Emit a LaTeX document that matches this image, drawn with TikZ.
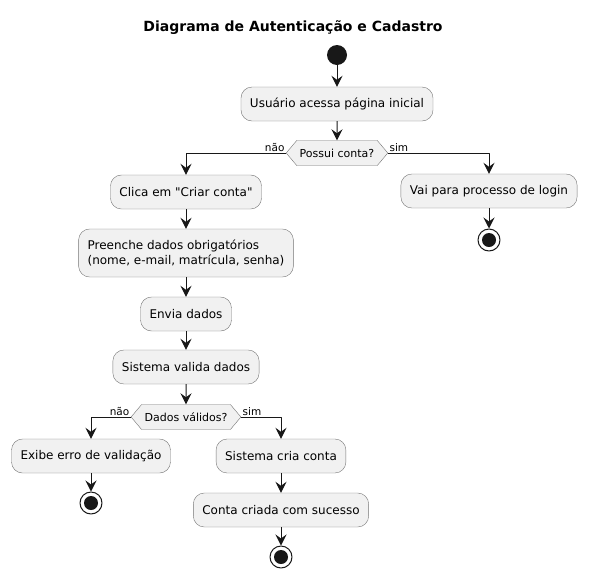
\documentclass[tikz,border=0pt]{standalone}
\usepackage{fontspec}
\setmainfont{DejaVu Sans}
\usetikzlibrary{arrows.meta}
\usetikzlibrary{shapes.symbols}
\definecolor{actfill}{HTML}{F1F1F1}
\definecolor{actline}{HTML}{181818}
\tikzset{act/.style={draw=actline!60, fill=actfill, rounded corners=11pt, inner xsep=9pt, minimum height=34pt, font=\fontsize{12}{15}\selectfont}}
\tikzset{dec/.style={draw=actline!60, fill=actfill, signal, signal to=west and east, signal pointer angle=100, inner xsep=3pt, inner ysep=7pt, minimum height=25pt, font=\fontsize{11}{13}\selectfont}}
\tikzset{lbl/.style={font=\fontsize{10.5}{12}\selectfont, inner sep=1pt}}
\tikzset{flow/.style={draw=actline, line width=1pt, -{Stealth[length=11pt,width=11pt,inset=4pt]}}}
\tikzset{startdot/.style={circle, fill=actline, minimum size=20pt, inner sep=0pt}}
\tikzset{stopdot/.style={circle, draw=actline, fill=white, line width=1pt, minimum size=22pt, inner sep=0pt, path picture={\fill[actline] (path picture bounding box.center) circle (7pt);}}}

\begin{document}
\begin{tikzpicture}[x=1pt, y=-1pt, line join=round]
  \useasboundingbox (0,0) rectangle (589,579);
  \node[font=\bfseries\fontsize{14}{16}\selectfont] (titulo) at (293,28) {Diagrama de Autenticação e Cadastro};
  % fluxo principal
  \node[startdot] (inicio) at (337,55) {};
  \node[act] (acessa) at (337,104) {Usuário acessa página inicial};
  \node[dec] (conta) at (337,153) {Possui conta?};
  % ramo sem conta
  \node[act] (criar) at (186,192) {Clica em \textquotedbl Criar conta\textquotedbl};
  \node[act, align=left, minimum height=48pt] (preenche) at (186,253) {Preenche dados obrigatórios\\(nome, e-mail, matrícula, senha)};
  \node[act] (envia) at (186,314) {Envia dados};
  \node[act] (valida) at (186,367) {Sistema valida dados};
  \node[dec] (validos) at (186,417) {Dados válidos?};
  \node[act] (erro) at (91,456) {Exibe erro de validação};
  \node[stopdot] (fim1) at (91,503) {};
  \node[act] (cria) at (281,456) {Sistema cria conta};
  \node[act] (sucesso) at (281,510) {Conta criada com sucesso};
  \node[stopdot] (fim2) at (281,557) {};
  % ramo com conta
  \node[act] (login) at (489,191) {Vai para processo de login};
  \node[stopdot] (fim3) at (489,240) {};

  \draw[flow] (inicio) -- (acessa);
  \draw[flow] (acessa) -- (conta);
  \draw[flow] (conta.west) -| node[lbl, pos=0, anchor=south east] {não} (criar.north);
  \draw[flow] (conta.east) -| node[lbl, pos=0, anchor=south west] {sim} (login.north);
  \draw[flow] (login) -- (fim3);
  \draw[flow] (criar) -- (preenche);
  \draw[flow] (preenche) -- (envia);
  \draw[flow] (envia) -- (valida);
  \draw[flow] (valida) -- (validos);
  \draw[flow] (validos.west) -| node[lbl, pos=0, anchor=south east] {não} (erro.north);
  \draw[flow] (validos.east) -| node[lbl, pos=0, anchor=south west] {sim} (cria.north);
  \draw[flow] (erro) -- (fim1);
  \draw[flow] (cria) -- (sucesso);
  \draw[flow] (sucesso) -- (fim2);
\end{tikzpicture}
\end{document}
